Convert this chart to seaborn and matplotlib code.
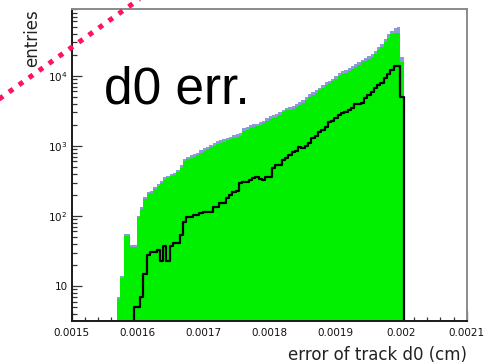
import numpy as np
import pandas as pd
import matplotlib
matplotlib.use("Agg")
import matplotlib.pyplot as plt
from matplotlib.lines import Line2D
from matplotlib.ticker import FixedLocator, FixedFormatter, LogLocator, NullFormatter, MultipleLocator
import seaborn as sns

# ---- histogram contents (entries per bin of track d0 error) ----
BIN_START = 0.001569   # cm
BIN_WIDTH = 0.000005   # cm

all_tracks = [
    7, 14, 55, 55, 38, 38, 100, 135, 185, 220, 230, 260, 285, 320, 355, 370,
    400, 410, 455, 530, 660, 690, 735, 760, 790, 865, 920, 975, 1030, 1090,
    1170, 1200, 1250, 1310, 1360, 1420, 1470, 1530, 1800, 1860, 1970, 2020,
    2080, 2190, 2300, 2460, 2630, 2740, 2850, 3070, 3290, 3510, 3620, 3730,
    3950, 4170, 4500, 4940, 5490, 5820, 6260, 6810, 7470, 8130, 8570, 9120,
    9900, 11000, 11600, 12100, 13000, 13800, 14900, 16000, 17100, 18200,
    19300, 20400, 22700, 25500, 28800, 33300, 39000, 44000, 48000, 50000,
    18500, 0,
]

selected_tracks = [
    6.5, 13, 52, 52, 36, 36, 95, 127, 175, 205, 215, 245, 265, 300, 330, 345,
    375, 380, 420, 490, 610, 640, 680, 700, 730, 800, 850, 900, 950, 1000,
    1080, 1100, 1150, 1200, 1250, 1300, 1350, 1400, 1650, 1700, 1800, 1850,
    1900, 2000, 2100, 2250, 2400, 2500, 2600, 2800, 3000, 3200, 3300, 3400,
    3600, 3800, 4100, 4500, 5000, 5300, 5700, 6200, 6800, 7400, 7800, 8300,
    9000, 10000, 10500, 11000, 11800, 12500, 13500, 14500, 15500, 16500,
    17500, 18500, 20500, 23000, 26000, 30000, 35000, 39000, 41000, 41000,
    16000, 0,
]

matched_tracks = [
    0, 0, 0, 0, 0, 5, 5, 7, 15, 28, 31, 31, 33, 23, 37, 23,
    37, 41, 41, 53, 82, 97, 97, 103, 103, 110, 113, 115, 115, 135,
    135, 153, 153, 180, 200, 220, 230, 295, 305, 305, 330, 350,
    360, 340, 325, 360, 360, 485, 540, 540, 630, 680, 740, 820,
    850, 950, 930, 1000, 1100, 1300, 1400, 1580, 1700, 1860, 2200, 2300,
    2500, 2760, 2900, 3080, 3300, 3500, 3900, 3900, 4100, 4900,
    5300, 5800, 6700, 7300, 7900, 9400, 10700, 12300, 13600, 13600,
    5000, 0,
]

x_ticks = [0.0015, 0.0016, 0.0017, 0.0018, 0.0019, 0.0020, 0.0021]
x_tick_labels = ["0.0015", "0.0016", "0.0017", "0.0018", "0.0019", "0.002", "0.0021"]
y_ticks = [10, 100, 1000, 10000]
y_tick_labels = ["10", r"$10^{2}$", r"$10^{3}$", r"$10^{4}$"]

edges = [float(e) for e in BIN_START + BIN_WIDTH * np.arange(len(all_tracks) + 1)]
centers = [0.5 * (a + b) for a, b in zip(edges[:-1], edges[1:])]
df = pd.DataFrame({
    "d0err": centers,
    "all": all_tracks,
    "selected": selected_tracks,
    "matched": matched_tracks,
})

sns.set_style("ticks")
plt.rcParams["font.family"] = ["DejaVu Sans"]

fig = plt.figure(figsize=(4.93, 3.64), dpi=100)
ax = fig.add_axes([0.1454, 0.1181, 0.9467 - 0.1454, 0.9753 - 0.1181])

sns.histplot(data=df, x="d0err", weights="all", bins=edges, element="step",
             fill=True, color="#8c9bd6", alpha=1, linewidth=0, ax=ax)
sns.histplot(data=df, x="d0err", weights="selected", bins=edges, element="step",
             fill=True, color="#00f000", alpha=1, linewidth=0, ax=ax)
sns.histplot(data=df, x="d0err", weights="matched", bins=edges, element="step",
             fill=False, color="black", linewidth=1.6, ax=ax)

ax.set_yscale("log")
ax.set_xlim(0.0015, 0.0021)
ax.set_ylim(3.16, 9.0e4)

ax.xaxis.set_major_locator(FixedLocator(x_ticks))
ax.xaxis.set_major_formatter(FixedFormatter(x_tick_labels))
ax.xaxis.set_minor_locator(MultipleLocator(0.00002))
ax.yaxis.set_major_locator(FixedLocator(y_ticks))
ax.yaxis.set_major_formatter(FixedFormatter(y_tick_labels))
ax.yaxis.set_minor_locator(LogLocator(base=10, subs=np.arange(2, 10)))
ax.yaxis.set_minor_formatter(NullFormatter())

ax.set_axisbelow(True)
ax.tick_params(axis="both", which="both", direction="in", colors="#333333",
               labelcolor="#111111", labelsize=7.5, width=0.9)
ax.tick_params(axis="y", which="major", length=7.5, pad=3)
ax.tick_params(axis="y", which="minor", length=3.8)
ax.tick_params(axis="x", which="major", length=7.5, pad=5)
ax.tick_params(axis="x", which="minor", length=3.0)

for side in ("left", "bottom"):
    ax.spines[side].set_color("#1a1a1a")
    ax.spines[side].set_linewidth(1.4)
for side in ("top", "right"):
    ax.spines[side].set_color("#8a8a8a")
    ax.spines[side].set_linewidth(1.4)

ax.set_xlabel("")
ax.set_ylabel("")

# axis titles in the ROOT style: right/top aligned
fig.text(466.7 / 493, 1 - 355 / 364, "error of track d0 (cm)", ha="right",
         va="center", fontsize=12, color="#222222")
fig.text(32.5 / 493, 1 - 9 / 364, "entries", rotation=90, ha="center",
         va="top", fontsize=12, color="#222222")

# big annotation
fig.text(104 / 493, 1 - 104 / 364, "d0 err.", family=["Liberation Sans"],
         fontsize=37, ha="left", va="baseline", color="black")

# dotted pointer line across the upper-left corner
pointer = Line2D([-5 / 493, 152 / 493], [1 - 102 / 364, 1 + 10 / 364],
                 transform=fig.transFigure, color="#ff1166", linewidth=3.6,
                 dashes=(1.0, 1.45), dash_capstyle="butt", clip_on=False)
fig.add_artist(pointer)

fig.savefig("out.png", dpi=100)
